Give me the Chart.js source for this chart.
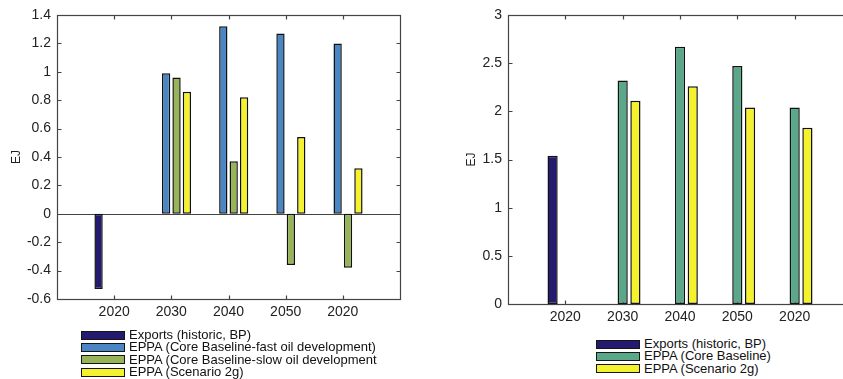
<!DOCTYPE html>
<html lang="en">
<head>
    <meta charset="UTF-8">
    <title>Oil exports, EJ</title>
    <script src="https://cdn.jsdelivr.net/npm/chart.js"></script>
    <style>
        html, body {
            margin: 0;
            padding: 0;
            width: 843px;
            height: 379px;
            overflow: hidden;
            background: #fff;
            font-family: "Liberation Sans", Arial, Helvetica, sans-serif;
        }

        .panel {
            position: absolute;
            top: 0;
        }

        .legend {
            position: absolute;
            font-size: 13px;
            color: #111;
        }

        #leftLegend { left: 81px; top: 329px; }
        #rightLegend { left: 596px; top: 338px; }

        .legend .row {
            display: flex;
            align-items: center;
            height: 12.4px;
            line-height: 12.4px;
            white-space: nowrap;
        }

        .legend .swatch {
            width: 44px;
            height: 9px;
            box-sizing: border-box;
            border: 1.5px solid #151515;
            margin-right: 4px;
        }
    </style>
</head>
<body>
    <canvas id="leftChart" class="panel" width="420" height="330" style="left:0"></canvas>
    <canvas id="rightChart" class="panel" width="440" height="330" style="left:420px"></canvas>
    <div id="leftLegend" class="legend"></div>
    <div id="rightLegend" class="legend"></div>

    <script>
        const years = ['2020', '2030', '2040', '2050', '2020'];

        // left panel: exports under the fast / slow oil development baselines
        const exportsHistoricLeft = [-0.53, null, null, null, null];
        const eppaFastOil = [null, 0.99, 1.32, 1.27, 1.20];
        const eppaSlowOil = [null, 0.96, 0.37, -0.36, -0.38];
        const eppaScenario2gLeft = [null, 0.86, 0.82, 0.54, 0.32];
        const leftYTicks = [-0.6, -0.4, -0.2, 0, 0.2, 0.4, 0.6, 0.8, 1, 1.2, 1.4];

        // right panel: core baseline vs scenario 2g
        const exportsHistoricRight = [1.54, null, null, null, null];
        const eppaCoreBaseline = [null, 2.32, 2.67, 2.47, 2.04];
        const eppaScenario2gRight = [null, 2.11, 2.26, 2.04, 1.83];
        const rightYTicks = [0, 0.5, 1, 1.5, 2, 2.5, 3];

        const navy = '#241b70';
        const blue = '#4a85c4';
        const olive = '#98b459';
        const yellow = '#f3f22c';
        const teal = '#5aa78a';

        const axisColor = '#444';
        const textColor = '#222';
        const fontFamily = '"Liberation Sans", Arial, Helvetica, sans-serif';

        // one empty slot each side, like matlab's xlim [0 6]
        function padded(arr) {
            return [null].concat(arr, [null]);
        }

        function makeDataset(label, data, color) {
            return {
                label: label,
                data: padded(data),
                backgroundColor: color,
                borderColor: '#111',
                borderWidth: 1.5,
                borderSkipped: false,
                barPercentage: 0.8
            };
        }

        function crisp(v) {
            return Math.round(v) + 0.5;
        }

        // inward tick marks and zero baseline go under the bars, the box on top
        const framePlugin = {
            id: 'frame',
            beforeDatasetsDraw(chart) {
                const ctx = chart.ctx;
                const area = chart.chartArea;
                const xs = chart.scales.x;
                const ys = chart.scales.y;
                const len = 4;
                const l = crisp(area.left), r = crisp(area.right);
                const t = crisp(area.top), b = crisp(area.bottom);

                ctx.save();
                ctx.strokeStyle = axisColor;
                ctx.lineWidth = 1.2;
                ctx.beginPath();

                const zy = crisp(ys.getPixelForValue(0));
                ctx.moveTo(l, zy);
                ctx.lineTo(r, zy);

                for (let i = 1; i <= years.length; i++) {
                    const px = crisp(xs.getPixelForValue(i));
                    ctx.moveTo(px, b);
                    ctx.lineTo(px, b - len);
                    ctx.moveTo(px, t);
                    ctx.lineTo(px, t + len);
                }
                ys.ticks.forEach(tick => {
                    const py = crisp(ys.getPixelForValue(tick.value));
                    ctx.moveTo(l, py);
                    ctx.lineTo(l + len, py);
                    ctx.moveTo(r, py);
                    ctx.lineTo(r - len, py);
                });
                ctx.stroke();
                ctx.restore();
            },
            afterDatasetsDraw(chart) {
                const ctx = chart.ctx;
                const area = chart.chartArea;
                const l = crisp(area.left), r = crisp(area.right);
                const t = crisp(area.top), b = crisp(area.bottom);
                ctx.save();
                ctx.strokeStyle = axisColor;
                ctx.lineWidth = 1.2;
                ctx.strokeRect(l, t, r - l, b - t);
                ctx.restore();
            }
        };

        function makeChart(canvasId, datasets, yTicks, groupWidth, yAxisWidth, padRight, padBottom, titlePad) {
            return new Chart(document.getElementById(canvasId), {
                type: 'bar',
                data: {
                    labels: padded(years).map(y => y || ''),
                    datasets: datasets
                },
                options: {
                    responsive: false,
                    animation: false,
                    categoryPercentage: groupWidth,
                    layout: { padding: { left: 0, top: 15, right: padRight, bottom: padBottom } },
                    plugins: {
                        legend: { display: false },
                        tooltip: { enabled: false }
                    },
                    scales: {
                        x: {
                            offset: false,
                            grid: { display: false, drawTicks: false, offset: false },
                            border: { display: false },
                            ticks: {
                                autoSkip: false,
                                maxRotation: 0,
                                padding: 5,
                                color: textColor,
                                font: { family: fontFamily, size: 14 }
                            },
                            afterFit(axis) { axis.height = 25; }
                        },
                        y: {
                            min: yTicks[0],
                            max: yTicks[yTicks.length - 1],
                            grid: { display: false, drawTicks: false },
                            border: { display: false },
                            ticks: {
                                stepSize: yTicks[1] - yTicks[0],
                                padding: 6,
                                color: textColor,
                                font: { family: fontFamily, size: 14 },
                                callback: v => String(Number(v.toFixed(2)))
                            },
                            title: {
                                display: true,
                                text: 'EJ',
                                color: textColor,
                                padding: { top: titlePad, bottom: 0 },
                                font: { family: fontFamily, size: 12 }
                            },
                            afterFit(axis) { axis.width = yAxisWidth; }
                        }
                    }
                },
                plugins: [framePlugin]
            });
        }

        function buildLegend(id, datasets) {
            const box = document.getElementById(id);
            datasets.forEach(ds => {
                const row = document.createElement('div');
                row.className = 'row';
                row.innerHTML = `<div class="swatch" style="background:${ds.backgroundColor}"></div><span>${ds.label}</span>`;
                box.appendChild(row);
            });
        }

        const leftSets = [
            makeDataset('Exports (historic, BP)', exportsHistoricLeft, navy),
            makeDataset('EPPA (Core Baseline-fast oil development)', eppaFastOil, blue),
            makeDataset('EPPA (Core Baseline-slow oil development', eppaSlowOil, olive),
            makeDataset('EPPA (Scenario 2g)', eppaScenario2gLeft, yellow)
        ];

        const rightSets = [
            makeDataset('Exports (historic, BP)', exportsHistoricRight, navy),
            makeDataset('EPPA (Core Baseline)', eppaCoreBaseline, teal),
            makeDataset('EPPA (Scenario 2g)', eppaScenario2gRight, yellow)
        ];

        // matlab grouped bar width: n / (n + 1.5)
        makeChart('leftChart', leftSets, leftYTicks, 4 / 5.5, 57, 20, 6, 9);
        makeChart('rightChart', rightSets, rightYTicks, 3 / 4.5, 88, 8, 1, 44);

        buildLegend('leftLegend', leftSets);
        buildLegend('rightLegend', rightSets);
    </script>
</body>
</html>
